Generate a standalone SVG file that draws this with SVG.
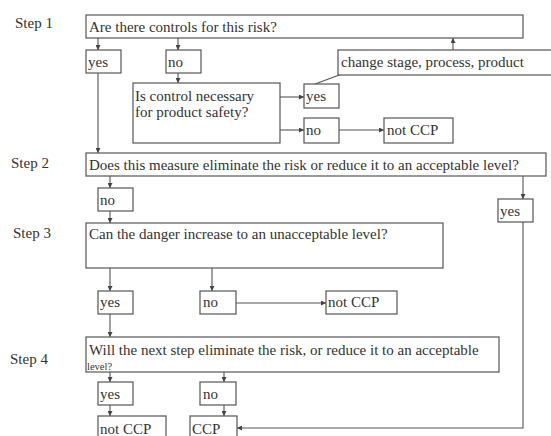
<svg xmlns="http://www.w3.org/2000/svg" width="551" height="436" viewBox="0 0 551 436">
<defs>
<marker id="ah" viewBox="0 0 6 6" refX="6" refY="3" markerWidth="5" markerHeight="5" orient="auto" markerUnits="userSpaceOnUse">
<path d="M0,0 L6,3 L0,6 z" fill="#444"/>
</marker>
<style>
rect{fill:#fff;stroke:#555;stroke-width:1.2}
text{fill:#333;font-family:'Liberation Serif','Times New Roman',serif;font-size:15px}
text.sm{font-size:10.5px}
.c line,.c polyline{stroke:#555;stroke-width:1.1;fill:none}
.a{marker-end:url(#ah)}
</style>
</defs>
<rect x="0" y="0" width="551" height="436" style="fill:#fff;stroke:none"/>
<g id="labels">
<text x="15" y="28">Step 1</text>
<text x="11" y="168">Step 2</text>
<text x="13" y="238">Step 3</text>
<text x="10" y="364">Step 4</text>
</g>
<g class="c" id="connectors">
<line class="a" x1="98" y1="38" x2="98" y2="50"/>
<line class="a" x1="178" y1="38" x2="178" y2="50"/>
<line class="a" x1="178" y1="73" x2="178" y2="83"/>
<line class="a" x1="280" y1="97" x2="304" y2="97"/>
<line class="a" x1="280" y1="130" x2="304" y2="130"/>
<line class="a" x1="339" y1="130" x2="384" y2="130"/>
<line x1="315" y1="84" x2="342" y2="74"/>
<line class="a" x1="453" y1="50" x2="453" y2="38"/>
<line class="a" x1="98" y1="73" x2="98" y2="153"/>
<line class="a" x1="110" y1="176" x2="110" y2="188"/>
<line class="a" x1="110" y1="211" x2="110" y2="223"/>
<line class="a" x1="523" y1="176" x2="523" y2="199"/>
<polyline class="a" points="523,222 523,428 237,428"/>
<line class="a" x1="110" y1="268" x2="110" y2="291"/>
<line class="a" x1="212" y1="268" x2="212" y2="291"/>
<line class="a" x1="236" y1="303" x2="326" y2="303"/>
<line class="a" x1="110" y1="314" x2="110" y2="337"/>
<line class="a" x1="110" y1="372" x2="110" y2="382"/>
<line class="a" x1="224" y1="372" x2="224" y2="382"/>
<line class="a" x1="110" y1="405" x2="110" y2="416"/>
<line class="a" x1="224" y1="405" x2="224" y2="416"/>
</g>
<g id="q1"><rect x="86" y="15" width="437" height="23"/><text x="89" y="32">Are there controls for this risk?</text></g>
<g id="q1yes"><rect x="86" y="50" width="35" height="23"/><text x="88" y="67">yes</text></g>
<g id="q1no"><rect x="166" y="50" width="35" height="23"/><text x="168" y="67">no</text></g>
<g id="ctrl"><rect x="133" y="83" width="147" height="60"/><text x="135" y="101">Is control necessary</text><text x="135" y="117">for product safety?</text></g>
<g id="change"><rect x="338" y="50" width="220" height="25"/><text x="341" y="67">change stage, process, product</text></g>
<g id="ctrlyes"><rect x="304" y="84" width="35" height="24"/><text x="306" y="101">yes</text></g>
<g id="ctrlno"><rect x="304" y="118" width="35" height="25"/><text x="306" y="135">no</text></g>
<g id="notccp1"><rect x="384" y="118" width="69" height="25"/><text x="387" y="135">not CCP</text></g>
<g id="q2"><rect x="86" y="153" width="460" height="23"/><text x="89" y="170">Does this measure eliminate the risk or reduce it to an acceptable level?</text></g>
<g id="q2no"><rect x="98" y="188" width="35" height="23"/><text x="100" y="205">no</text></g>
<g id="q2yes"><rect x="498" y="199" width="35" height="23"/><text x="500" y="216">yes</text></g>
<g id="q3"><rect x="86" y="223" width="357" height="45"/><text x="89" y="239">Can the danger increase to an unacceptable level?</text></g>
<g id="q3yes"><rect x="98" y="291" width="35" height="23"/><text x="100" y="307">yes</text></g>
<g id="q3no"><rect x="200" y="291" width="36" height="23"/><text x="203" y="307">no</text></g>
<g id="notccp3"><rect x="326" y="291" width="71" height="23"/><text x="328" y="307">not CCP</text></g>
<g id="q4"><rect x="86" y="337" width="413" height="35"/><text x="89" y="355">Will the next step eliminate the risk, or reduce it to an acceptable</text><text class="sm" x="87" y="370">level?</text></g>
<g id="q4yes"><rect x="98" y="382" width="35" height="23"/><text x="100" y="399">yes</text></g>
<g id="q4no"><rect x="200" y="382" width="36" height="23"/><text x="203" y="399">no</text></g>
<g id="notccp4"><rect x="98" y="416" width="68" height="26"/><text x="100" y="434">not CCP</text></g>
<g id="ccp"><rect x="190" y="416" width="47" height="26"/><text x="192" y="434">CCP</text></g>
</svg>
